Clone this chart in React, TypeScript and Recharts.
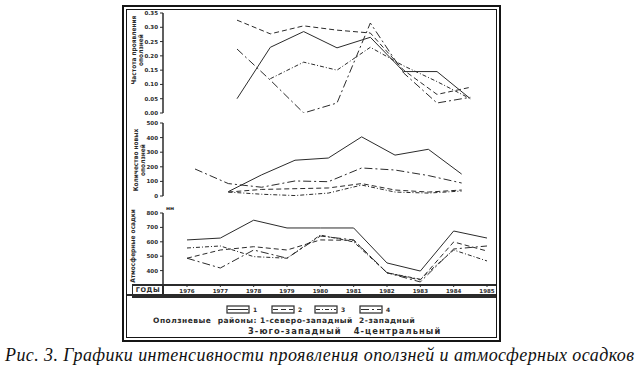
import React from "react";
import { LineChart, Line, XAxis, YAxis } from "recharts";

// years on the bottom axis
const years = [1976, 1977, 1978, 1979, 1980, 1981, 1982, 1983, 1984, 1985];
// panel 1 and 2 are drawn a bit shifted in the scan
const freqYears = [1977, 1978, 1979, 1980, 1981, 1982, 1983, 1984];
const countYears = [1976, 1977, 1978, 1979, 1980, 1981, 1982, 1983, 1984];

// frequency of landslide activity
const freq1 = [0.05, 0.23, 0.285, 0.228, 0.265, 0.145, 0.145, 0.05];
const freq2 = [0.325, 0.277, 0.305, 0.29, 0.28, 0.15, 0.065, 0.09];
const freq3 = [null, 0.12, 0.178, 0.15, 0.23, 0.165, 0.11, 0.05];
const freq4 = [0.224, 0.115, 0.0, 0.035, 0.315, 0.14, 0.035, 0.055];

// number of new landslides
const count1 = [null, 30, 145, 245, 260, 405, 280, 320, 150];
const count2 = [null, 27, 45, 50, 55, 85, 41, 27, 41];
const count3 = [null, 27, 12, 3, 20, 75, 27, 20, 34];
const count4 = [185, 85, 60, 103, 98, 192, 178, 140, 89];

// precipitation, mm
const rain1 = [613, 626, 750, 696, 696, 696, 453, 397, 675, 626];
const rain2 = [486, 543, 566, 543, 613, 610, 385, 335, 599, 536];
const rain3 = [557, 571, 497, 486, 647, 599, 385, 340, 543, 467];
const rain4 = [486, 418, 543, 486, 640, 613, 385, 321, 550, 571];

const freqTicks = [0, 0.05, 0.1, 0.15, 0.2, 0.25, 0.3, 0.35];
const countTicks = [0, 100, 200, 300, 400, 500];
const rainTicks = [300, 400, 500, 600, 700, 800];

const freqData = freqYears.map((year, i) => ({ year, s1: freq1[i], s2: freq2[i], s3: freq3[i], s4: freq4[i] }));
const countData = countYears.map((year, i) => ({ year, s1: count1[i], s2: count2[i], s3: count3[i], s4: count4[i] }));
const rainData = years.map((year, i) => ({ year, s1: rain1[i], s2: rain2[i], s3: rain3[i], s4: rain4[i] }));

const INK = "#2b2b2b";
const dashes = ["0", "5 3", "4 2 1 2", "8 3 2 3"];
const tickStyle = { fontSize: 5.5, fill: INK, fontFamily: "DejaVu Sans", fontWeight: 700 };
const titleFont = "'DejaVu Sans Condensed', 'Liberation Sans Narrow', 'DejaVu Sans', sans-serif";

const margin = { left: 133, right: 147 };

function series() {
  return ["s1", "s2", "s3", "s4"].map((k, i) => (
    <Line
      key={k}
      dataKey={k}
      type="linear"
      stroke={INK}
      strokeWidth={1}
      strokeDasharray={dashes[i]}
      dot={false}
      connectNulls={false}
      isAnimationActive={false}
    />
  ));
}

const yAxisProps = {
  width: 30,
  tickSize: 3,
  tick: tickStyle,
  axisLine: { stroke: INK, strokeWidth: 1.5 },
  tickLine: { stroke: INK },
  interval: 0 as const,
};

function VTitle({ lines, x, y, len }: { lines: string[]; x: number; y: number; len: number }) {
  return (
    <div
      style={{
        position: "absolute",
        left: x - len / 2,
        top: y - 8,
        width: len,
        height: 16,
        transform: "rotate(-90deg)",
        textAlign: "center",
        fontFamily: titleFont,
        fontWeight: 700,
        fontSize: 6.5,
        lineHeight: "7px",
        color: INK,
      }}
    >
      {lines.map((l) => (
        <div key={l}>{l}</div>
      ))}
    </div>
  );
}

function LegendBox({ x, dash, label }: { x: number; dash: string; label: string }) {
  return (
    <g>
      <rect x={x} y={1} width={22} height={7} fill="none" stroke={INK} strokeWidth={1.2} />
      <line x1={x + 1} x2={x + 21} y1={4.5} y2={4.5} stroke={INK} strokeWidth={1} strokeDasharray={dash} />
      <text x={x + 26} y={7} fontSize={6} fontWeight={700} fill={INK} fontFamily="DejaVu Sans">
        {label}
      </text>
    </g>
  );
}

export default function App() {
  return (
    <div style={{ position: "absolute", left: 0, top: 0, width: 642, height: 370, background: "#fff" }}>
      {/* double frame */}
      <div style={{ position: "absolute", left: 122, top: 5, width: 375, height: 333, border: "2px solid #151515" }} />
      <div style={{ position: "absolute", left: 126, top: 9, width: 369, height: 327, border: "1px solid #151515" }} />

      {/* panel 1: frequency */}
      <div style={{ position: "absolute", left: 0, top: 0 }}>
        <LineChart width={642} height={120} data={freqData} margin={{ ...margin, top: 13, bottom: 7 }}>
          <XAxis dataKey="year" type="number" domain={[1974.78, 1984.74]} hide allowDataOverflow />
          <YAxis
            {...yAxisProps}
            domain={[0, 0.35]}
            ticks={freqTicks}
            tickFormatter={(v: number) => v.toFixed(2)}
            allowDataOverflow
          />
          {series()}
        </LineChart>
      </div>

      {/* panel 2: number of new landslides */}
      <div style={{ position: "absolute", left: 0, top: 115 }}>
        <LineChart width={642} height={90} data={countData} margin={{ ...margin, top: 8, bottom: 9 }}>
          <XAxis dataKey="year" type="number" domain={[1975.04, 1985.0]} hide allowDataOverflow />
          <YAxis {...yAxisProps} domain={[0, 500]} ticks={countTicks} allowDataOverflow />
          {series()}
        </LineChart>
      </div>

      {/* panel 3: precipitation */}
      <div style={{ position: "absolute", left: 0, top: 205 }}>
        <LineChart width={642} height={100} data={rainData} margin={{ ...margin, top: 8, bottom: 9 }}>
          <XAxis
            dataKey="year"
            type="number"
            domain={[1975.28, 1985.24]}
            ticks={years}
            interval={0}
            height={11}
            tickSize={2}
            tick={tickStyle}
            axisLine={false}
            tickLine={{ stroke: INK }}
            allowDataOverflow
          />
          <YAxis
            {...yAxisProps}
            domain={[300, 800]}
            ticks={rainTicks}
            tickFormatter={(v: number) => (v === 300 ? "" : String(v))}
            allowDataOverflow
          />
          {series()}
        </LineChart>
      </div>
      <div style={{ position: "absolute", left: 166, top: 205, fontSize: 5, fontWeight: 700, fontFamily: "DejaVu Sans", color: INK }}>
        мм
      </div>

      {/* years band */}
      <div
        style={{
          position: "absolute",
          left: 132,
          top: 284,
          width: 363,
          height: 10,
          borderTop: `2px solid ${INK}`,
          borderBottom: `2px solid ${INK}`,
          borderLeft: `1.5px solid ${INK}`,
        }}
      />
      <div style={{ position: "absolute", left: 127, top: 294, width: 369, height: 2, background: INK }} />
      <div style={{ position: "absolute", left: 162, top: 285, width: 1.5, height: 11, background: INK }} />
      <div
        style={{
          position: "absolute",
          left: 134,
          top: 286,
          width: 28,
          textAlign: "center",
          fontSize: 6.5,
          fontWeight: 700,
          letterSpacing: 0.6,
          fontFamily: "DejaVu Sans",
          color: INK,
        }}
      >
        ГОДЫ
      </div>

      {/* axis titles */}
      <VTitle lines={["Частота проявления", "оползней"]} x={139} y={50} len={90} />
      <VTitle lines={["Количество новых", "оползней"]} x={141} y={160} len={70} />
      <VTitle lines={["Атмосферные осадки"]} x={138} y={246} len={80} />

      {/* legend */}
      <svg style={{ position: "absolute", left: 226, top: 305 }} width={180} height={10}>
        <LegendBox x={1} dash={dashes[0]} label="1" />
        <LegendBox x={46} dash={dashes[1]} label="2" />
        <LegendBox x={89} dash={dashes[2]} label="3" />
        <LegendBox x={134} dash={dashes[3]} label="4" />
      </svg>
      <div
        style={{
          position: "absolute",
          left: 153,
          top: 315,
          whiteSpace: "pre",
          fontSize: 7.5,
          fontWeight: 700,
          fontFamily: "DejaVu Sans",
          letterSpacing: 0.5,
          color: INK,
          lineHeight: "11px",
        }}
      >
        {"Оползневые  районы: 1-северо-западный  2-западный"}
      </div>
      <div
        style={{
          position: "absolute",
          left: 248,
          top: 326,
          whiteSpace: "pre",
          fontSize: 8.3,
          fontWeight: 700,
          fontFamily: "DejaVu Sans",
          letterSpacing: 1.1,
          color: INK,
          lineHeight: "11px",
        }}
      >
        {"3-юго-западный   4-центральный"}
      </div>

      {/* caption */}
      <div
        style={{
          position: "absolute",
          left: 5,
          top: 345,
          whiteSpace: "nowrap",
          fontFamily: "'Liberation Serif', serif",
          fontStyle: "italic",
          fontSize: 18,
          letterSpacing: 0.42,
          color: "#111",
        }}
      >
        Рис. 3. Графики интенсивности проявления оползней и атмосферных осадков
      </div>
    </div>
  );
}
